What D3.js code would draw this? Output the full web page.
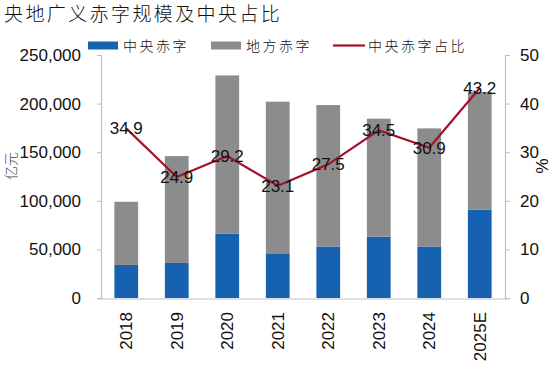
<!DOCTYPE html>
<html>
<head>
<meta charset="utf-8">
<script src="https://cdn.jsdelivr.net/npm/d3@7"></script>
<style>
  body { margin: 0; background: #fff; }
  svg { display: block; }
</style>
</head>
<body>
<div id="chart"></div>
<script>
// 央地广义赤字 (亿元) and central share (%)
const years = ["2018", "2019", "2020", "2021", "2022", "2023", "2024", "2025E"];
const central = [34000, 36000, 66000, 46000, 53000, 63000, 53000, 91000];
const local = [65000, 110000, 163000, 156000, 145500, 121500, 121500, 121000];
const share = [34.9, 24.9, 29.2, 23.1, 27.5, 34.5, 30.9, 43.2];
const leftTicks = [0, 50000, 100000, 150000, 200000, 250000];
const rightTicks = [0, 10, 20, 30, 40, 50];

(function () {
  const W = 550, H = 366;
  const plot = { left: 101, right: 505, top: 55, bottom: 298 };
  const blue = "#1662B0", gray = "#8C8C8C", red = "#A5102B", axisCol = "#BFBFBF";
  const numFont = "Liberation Sans, Arial, sans-serif";
  const cjkFont = "Noto Sans CJK SC, sans-serif";

  const svg = d3.select("#chart").append("svg")
    .attr("width", W).attr("height", H);

  const x = d3.scaleBand().domain(years)
    .range([plot.left, plot.right])
    .paddingInner(0.53).paddingOuter(0.265);
  const y = d3.scaleLinear().domain([0, 250000]).range([plot.bottom, plot.top]);
  const y2 = d3.scaleLinear().domain([0, 50]).range([plot.bottom, plot.top]);

  // title
  svg.append("text")
    .attr("x", 4).attr("y", 21)
    .attr("font-family", cjkFont).attr("font-size", 19).attr("font-weight", 300)
    .attr("letter-spacing", 2.4)
    .attr("fill", "#111")
    .text("央地广义赤字规模及中央占比");

  // bars
  const rows = years.map((yr, i) => ({ yr, c: central[i], l: local[i], s: share[i] }));
  const g = svg.append("g");
  g.selectAll(".bar-c").data(rows).join("rect")
    .attr("x", d => x(d.yr)).attr("width", x.bandwidth())
    .attr("y", d => y(d.c)).attr("height", d => y(0) - y(d.c))
    .attr("fill", blue);
  g.selectAll(".bar-l").data(rows).join("rect")
    .attr("x", d => x(d.yr)).attr("width", x.bandwidth())
    .attr("y", d => y(d.c + d.l)).attr("height", d => y(d.c) - y(d.c + d.l))
    .attr("fill", gray);

  // axes
  const left = svg.append("g")
    .attr("transform", `translate(${plot.left},0)`)
    .call(d3.axisLeft(y).tickValues(leftTicks).tickSize(4).tickPadding(16)
      .tickFormat(d3.format(",")));
  const right = svg.append("g")
    .attr("transform", `translate(${plot.right},0)`)
    .call(d3.axisRight(y2).tickValues(rightTicks).tickSize(5).tickPadding(10));
  const bottom = svg.append("g")
    .attr("transform", `translate(0,${plot.bottom + 1})`)
    .call(d3.axisBottom(x).tickSize(0).tickPadding(0));

  [left, right, bottom].forEach(a => {
    a.select(".domain").attr("stroke", axisCol).attr("stroke-width", 1.2);
    a.selectAll(".tick line").attr("stroke", axisCol);
    a.selectAll("text").attr("font-family", numFont).attr("font-size", 17).attr("fill", "#111");
  });
  bottom.select(".domain").attr("d", `M${plot.left - 4},0H${plot.right + 4}`);
  bottom.selectAll(".tick text")
    .attr("transform", "translate(0,13) rotate(-90)")
    .attr("text-anchor", "end")
    .attr("dy", "0.35em")
    .attr("y", 0).attr("x", 0);

  // axis titles
  svg.append("text")
    .attr("transform", "translate(16,166) rotate(-90)")
    .attr("text-anchor", "middle")
    .attr("font-family", cjkFont).attr("font-size", 14).attr("font-weight", 300)
    .attr("fill", "#444")
    .text("亿元");
  svg.append("text")
    .attr("transform", "translate(536,166) rotate(90)")
    .attr("text-anchor", "middle")
    .attr("font-family", numFont).attr("font-size", 17).attr("fill", "#111")
    .text("%");

  // share line
  const line = d3.line().x(d => x(d.yr) + x.bandwidth() / 2).y(d => y2(d.s));
  svg.append("path").datum(rows)
    .attr("d", line).attr("fill", "none")
    .attr("stroke", red).attr("stroke-width", 2.2);

  svg.selectAll(".lbl").data(rows).join("text")
    .attr("x", d => x(d.yr) + x.bandwidth() / 2)
    .attr("y", d => y2(d.s))
    .attr("dy", "0.35em")
    .attr("text-anchor", "middle")
    .attr("font-family", numFont).attr("font-size", 17).attr("fill", "#111")
    .text(d => d.s.toFixed(1));

  // legend
  const legend = svg.append("g").attr("font-family", cjkFont).attr("font-size", 14)
    .attr("font-weight", 300).attr("letter-spacing", 2.5).attr("fill", "#111");
  const items = [
    { label: "中央赤字", type: "rect", color: blue, x: 88 },
    { label: "地方赤字", type: "rect", color: gray, x: 211 },
    { label: "中央赤字占比", type: "line", color: red, x: 333 }
  ];
  items.forEach(it => {
    if (it.type === "rect") {
      legend.append("rect").attr("x", it.x).attr("y", 41.5)
        .attr("width", 30).attr("height", 8).attr("fill", it.color);
    } else {
      legend.append("line").attr("x1", it.x).attr("x2", it.x + 32)
        .attr("y1", 45.5).attr("y2", 45.5)
        .attr("stroke", it.color).attr("stroke-width", 2.2);
    }
    legend.append("text").attr("x", it.x + 35).attr("y", 50.5).text(it.label);
  });
})();
</script>
</body>
</html>
